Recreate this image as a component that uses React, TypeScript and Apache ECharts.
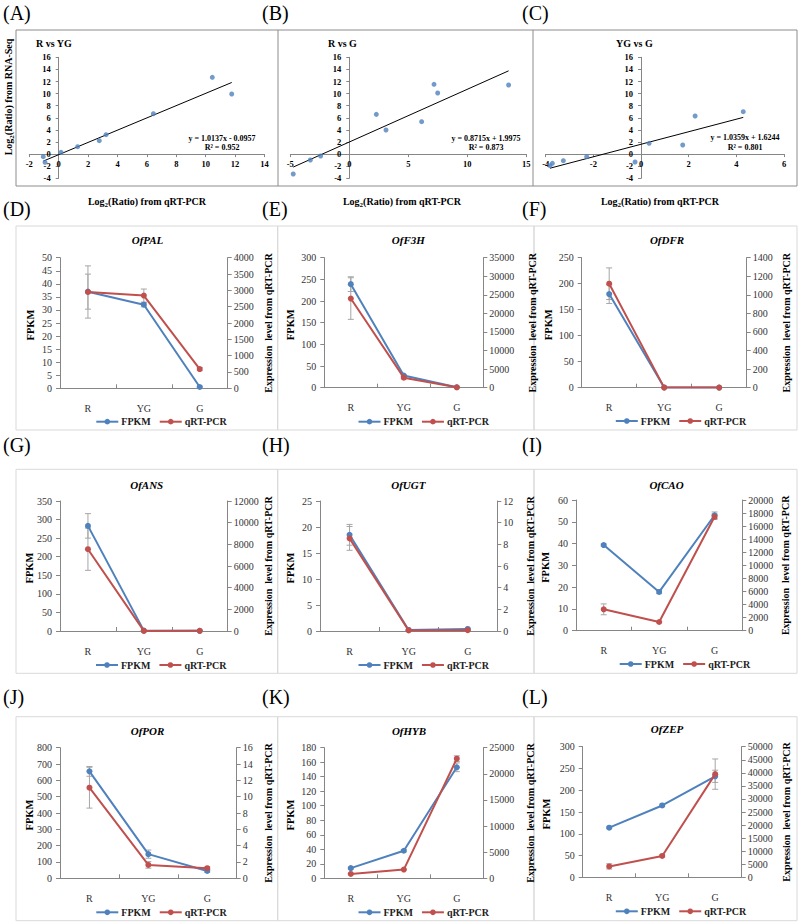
import React, { useEffect, useRef } from 'react';
import * as echarts from 'echarts';

const FONT = "'Liberation Serif', 'Times New Roman', serif";
const BLUE = '#4f81bd';
const RED = '#c0504d';

// ---------- Scatter data (A, B, C) ----------
const scatterLabels = ['(A)', '(B)', '(C)'];
const scatterTitles = ['R vs YG', 'R vs G', 'YG vs G'];
const rVsYgX = [-1.05, -0.93, 0.16, 1.29, 2.76, 3.22, 6.44, 10.45, 11.77];
const rVsYgY = [-0.43, -1.36, 0.29, 1.23, 2.22, 3.21, 6.68, 12.69, 9.93];
const rVsGX = [-4.75, -3.3, -2.43, 2.29, 3.11, 6.13, 7.18, 7.49, 13.5];
const rVsGY = [-3.29, -0.98, -0.31, 6.57, 3.98, 5.36, 11.53, 10.1, 11.42];
const ygVsGX = [-3.82, -3.72, -3.26, -2.28, -0.25, 0.34, 1.75, 2.27, 4.29];
const ygVsGY = [-1.91, -1.52, -1.09, -0.43, -1.31, 1.78, 1.5, 6.3, 7.01];
const slopes = [1.0137, 0.8715, 1.0359];
const intercepts = [-0.0957, 1.9975, 1.6244];
const equations = ['y = 1.0137x - 0.0957', 'y = 0.8715x + 1.9975', 'y = 1.0359x + 1.6244'];
const r2Texts = ['R\u00b2 = 0.952', 'R\u00b2 = 0.873', 'R\u00b2 = 0.801'];
const scatterXMin = [-2, -5, -4];
const scatterXMax = [14, 15, 6];
const scatterXStep = [2, 5, 2];
const scatterYMin = -4;
const scatterYMax = 16;
const scatterYStep = 2;

// ---------- Line panel data (D - L) ----------
const categories = ['R', 'YG', 'G'];
const panelLabels = ['(D)', '(E)', '(F)', '(G)', '(H)', '(I)', '(J)', '(K)', '(L)'];
const genes = ['OfPAL', 'OfF3H', 'OfDFR', 'OfANS', 'OfUGT', 'OfCAO', 'OfPOR', 'OfHYB', 'OfZEP'];

const palFpkm = [37, 32, 0.5];
const palFpkmErr = [6.7, 0.8, 0.3];
const palQrt = [2950, 2840, 590];
const palQrtErr = [800, 200, 50];

const f3hFpkm = [239, 28, 1];
const f3hFpkmErr = [17, 2, 0.3];
const f3hQrt = [24000, 2700, 100];
const f3hQrtErr = [5600, 300, 30];

const dfrFpkm = [180, 0.5, 0.3];
const dfrFpkmErr = [18, 0.1, 0.1];
const dfrQrt = [1120, 1, 1];
const dfrQrtErr = [170, 0, 0];

const ansFpkm = [283, 1, 0.5];
const ansFpkmErr = [33, 0.2, 0.1];
const ansQrt = [7550, 10, 15];
const ansQrtErr = [1950, 5, 5];

const ugtFpkm = [18.5, 0.2, 0.4];
const ugtFpkmErr = [2, 0.05, 0.1];
const ugtQrt = [8.55, 0.05, 0.08];
const ugtQrtErr = [1.1, 0.02, 0.02];

const caoFpkm = [39.3, 17.8, 53];
const caoFpkmErr = [0.5, 0.8, 1.5];
const caoQrt = [3270, 1330, 17430];
const caoQrtErr = [830, 100, 400];

const porFpkm = [655, 148, 45];
const porFpkmErr = [30, 25, 8];
const porQrt = [11.1, 1.64, 1.24];
const porQrtErr = [2.5, 0.4, 0.15];

const hybFpkm = [14, 38, 153];
const hybFpkmErr = [1, 1.5, 6];
const hybQrt = [833, 1667, 22900];
const hybQrtErr = [50, 100, 550];

const zepFpkm = [114, 165, 232];
const zepFpkmErr = [2, 3, 14];
const zepQrt = [4170, 8170, 39500];
const zepQrtErr = [1000, 400, 5800];

const leftMax = [50, 300, 250, 350, 25, 60, 800, 180, 300];
const leftStep = [5, 50, 50, 50, 5, 10, 100, 20, 50];
const rightMax = [4000, 35000, 1400, 12000, 12, 20000, 16, 25000, 50000];
const rightStep = [500, 5000, 200, 2000, 2, 2000, 2, 5000, 5000];

const fpkmSets = [palFpkm, f3hFpkm, dfrFpkm, ansFpkm, ugtFpkm, caoFpkm, porFpkm, hybFpkm, zepFpkm];
const fpkmErrSets = [palFpkmErr, f3hFpkmErr, dfrFpkmErr, ansFpkmErr, ugtFpkmErr, caoFpkmErr, porFpkmErr, hybFpkmErr, zepFpkmErr];
const qrtSets = [palQrt, f3hQrt, dfrQrt, ansQrt, ugtQrt, caoQrt, porQrt, hybQrt, zepQrt];
const qrtErrSets = [palQrtErr, f3hQrtErr, dfrQrtErr, ansQrtErr, ugtQrtErr, caoQrtErr, porQrtErr, hybQrtErr, zepQrtErr];

// ---------- Layout ----------
const scatterGrids = [
  [29.3, 57.3, 235.2, 121],
  [290.3, 57.3, 236, 121],
  [545.7, 57.3, 238.3, 121],
];
const scatterTitlePos = [[36, 43], [328, 43], [616, 43]];
const eqPos = [[222, 138], [486, 138], [745, 137.5]];
const xTitleCx = [147, 402, 660];

const lineGrids = [
  [60, 257.7, 167.7, 130.6],
  [324.3, 257.7, 159, 130],
  [581.7, 257.7, 165, 130],
  [60, 501, 167.7, 130],
  [320, 501, 177.3, 130],
  [576, 500, 166.3, 130.7],
  [60, 747.7, 176.7, 130.6],
  [324.3, 747.7, 159, 130.6],
  [582.7, 746.7, 159, 130.6],
];
const titlePos = [
  [147.5, 240], [408.3, 240], [667, 240],
  [146.7, 485], [408.3, 485], [666.5, 485],
  [147.5, 731], [409, 731], [667, 729],
];
const legendPos = [
  [148.3, 417.7], [410.5, 417.7], [667.8, 417],
  [148, 661], [410.5, 661], [671.7, 660],
  [148.3, 908.3], [410.5, 908.3], [667.8, 907.3],
];
const leftNameX = [30, 290, 548.3, 29, 290, 545, 29.3, 290, 546.7];
const rightNameX = [268.3, 532, 786.7, 268, 530, 785, 268, 530, 786.7];
const colX = [[16, 277.7], [277.7, 534], [534, 797]];
const rowY = [[226, 430], [469.3, 673.3], [716.7, 920.7]];
const labelX = [3, 262, 522];
const labelRowY = [12.5, 209, 445, 697];

const plain = (v: number) => String(v);

function txt(x: number, y: number, text: string, o: any = {}, rotation = 0): any {
  const align = o.align || 'center';
  return {
    type: 'text',
    x,
    y,
    rotation,
    silent: true,
    z: 10,
    style: {
      text,
      fontFamily: FONT,
      fontSize: o.fontSize || 10,
      fontWeight: o.fontWeight || 'normal',
      fontStyle: o.fontStyle || 'normal',
      fill: o.fill || '#000',
      align,
      verticalAlign: 'middle',
      textAlign: align,
      textVerticalAlign: 'middle',
      rich: o.rich,
    },
  };
}

function errorSeries(xi: number, yi: number, vals: number[], errs: number[]): any {
  const data = vals.map((v, k) => [k, v - errs[k], v + errs[k]]).filter((d, k) => errs[k] > 0);
  return {
    type: 'custom',
    xAxisIndex: xi,
    yAxisIndex: yi,
    z: 1,
    silent: true,
    data,
    encode: { x: 0, y: [1, 2] },
    renderItem: (params: any, api: any) => {
      const x = api.value(0);
      const p1 = api.coord([x, api.value(1)]);
      const p2 = api.coord([x, api.value(2)]);
      const w = 3;
      const style = { stroke: '#a6a6a6', lineWidth: 1 };
      return {
        type: 'group',
        children: [
          { type: 'line', shape: { x1: p1[0], y1: p1[1], x2: p2[0], y2: p2[1] }, style },
          { type: 'line', shape: { x1: p1[0] - w, y1: p1[1], x2: p1[0] + w, y2: p1[1] }, style },
          { type: 'line', shape: { x1: p2[0] - w, y1: p2[1], x2: p2[0] + w, y2: p2[1] }, style },
        ],
      };
    },
  };
}

function buildOption(): any {
  const grids: any[] = [];
  const xAxes: any[] = [];
  const yAxes: any[] = [];
  const series: any[] = [];
  const legends: any[] = [];
  const graphics: any[] = [];

  const scatterX = [rVsYgX, rVsGX, ygVsGX];
  const scatterY = [rVsYgY, rVsGY, ygVsGY];
  const axisGray = '#868686';

  graphics.push({
    type: 'rect', silent: true, z: 0,
    shape: { x: 16, y: 30, width: 781, height: 156 },
    style: { fill: 'none', stroke: '#8c8c8c', lineWidth: 1 },
  });
  [278, 533].forEach((x) => {
    graphics.push({
      type: 'line', silent: true, z: 0,
      shape: { x1: x, y1: 30, x2: x, y2: 186 },
      style: { stroke: '#8c8c8c', lineWidth: 1 },
    });
  });

  const subRich = {
    n: { fontFamily: FONT, fontSize: 10, fontWeight: 'bold', lineHeight: 14, verticalAlign: 'middle', fill: '#000' },
    s: { fontFamily: FONT, fontSize: 7, fontWeight: 'bold', lineHeight: 7, verticalAlign: 'bottom', fill: '#000' },
  };

  graphics.push(txt(8, 97, '{n|Log}{s|2}{n|(Ratio) from RNA-Seq}', { fontWeight: 'bold', rich: subRich }, Math.PI / 2));

  for (let i = 0; i < 3; i++) {
    const gi = grids.length;
    const g = scatterGrids[i];
    grids.push({ left: g[0], top: g[1], width: g[2], height: g[3], containLabel: false });
    // place the axes where the other axis is zero
    const xZeroFromLeft = g[2] * (0 - scatterXMin[i]) / (scatterXMax[i] - scatterXMin[i]);
    const yZeroFromBottom = g[3] * (0 - scatterYMin) / (scatterYMax - scatterYMin);
    const xi = xAxes.length;
    xAxes.push({
      gridIndex: gi, type: 'value', position: 'bottom',
      offset: -yZeroFromBottom,
      min: scatterXMin[i], max: scatterXMax[i], interval: scatterXStep[i],
      axisLine: { show: true, onZero: false, lineStyle: { color: axisGray } },
      axisTick: { show: true, length: 3, lineStyle: { color: axisGray } },
      axisLabel: { fontFamily: FONT, fontWeight: 'bold', fontSize: 8.5, color: '#000', margin: 5, formatter: plain },
      splitLine: { show: false },
    });
    const yi = yAxes.length;
    yAxes.push({
      gridIndex: gi, type: 'value', position: 'left',
      offset: -xZeroFromLeft,
      min: scatterYMin, max: scatterYMax, interval: scatterYStep,
      axisLine: { show: true, onZero: false, lineStyle: { color: axisGray } },
      axisTick: { show: true, length: 3, lineStyle: { color: axisGray } },
      axisLabel: { fontFamily: FONT, fontWeight: 'bold', fontSize: 8.5, color: '#000', margin: 8, formatter: plain },
      splitLine: { show: false },
    });
    const xs = scatterX[i];
    const ys = scatterY[i];
    series.push({
      type: 'scatter', xAxisIndex: xi, yAxisIndex: yi,
      data: xs.map((x, k) => [x, ys[k]]),
      symbol: 'circle', symbolSize: 5, z: 3,
      itemStyle: { color: BLUE },
    });
    const x0 = Math.min(...xs);
    const x1 = Math.max(...xs);
    series.push({
      type: 'line', xAxisIndex: xi, yAxisIndex: yi,
      data: [[x0, slopes[i] * x0 + intercepts[i]], [x1, slopes[i] * x1 + intercepts[i]]],
      symbol: 'none', z: 2,
      lineStyle: { color: '#000', width: 1 },
    });

    graphics.push(txt(labelX[i], labelRowY[0], scatterLabels[i], { fontSize: 20, align: 'left' }));
    graphics.push(txt(scatterTitlePos[i][0], scatterTitlePos[i][1], scatterTitles[i], { fontSize: 10, fontWeight: 'bold', align: 'left' }));
    graphics.push(txt(eqPos[i][0], eqPos[i][1], equations[i], { fontSize: 8, fontWeight: 'bold' }));
    graphics.push(txt(eqPos[i][0], eqPos[i][1] + 9.5, r2Texts[i], { fontSize: 8, fontWeight: 'bold' }));
    graphics.push(txt(xTitleCx[i], 201, '{n|Log}{s|2}{n|(Ratio) from qRT-PCR}', { fontWeight: 'bold', rich: subRich }));
  }

  for (let j = 0; j < 9; j++) {
    const col = j % 3;
    const row = Math.floor(j / 3);
    const cx = colX[col];
    const ry = rowY[row];
    graphics.push({
      type: 'rect', silent: true, z: 0,
      shape: { x: cx[0], y: ry[0], width: cx[1] - cx[0], height: ry[1] - ry[0] },
      style: { fill: 'none', stroke: '#d9d9d9', lineWidth: 1 },
    });
    graphics.push(txt(labelX[col], labelRowY[row + 1], panelLabels[j], { fontSize: 20, align: 'left' }));
    graphics.push(txt(titlePos[j][0], titlePos[j][1], genes[j], { fontSize: 11, fontWeight: 'bold', fontStyle: 'italic' }));

    const g = lineGrids[j];
    const gi = grids.length;
    grids.push({ left: g[0], top: g[1], width: g[2], height: g[3], containLabel: false });
    const midY = g[1] + g[3] / 2;
    graphics.push(txt(leftNameX[j], midY + 2, 'FPKM', { fontSize: 10.5, fontWeight: 'bold' }, Math.PI / 2));
    graphics.push(txt(rightNameX[j], midY, 'Expression  level from qRT-PCR', { fontSize: 10, fontWeight: 'bold' }, Math.PI / 2));

    const xi = xAxes.length;
    xAxes.push({
      gridIndex: gi, type: 'category', data: categories, boundaryGap: true,
      axisLine: { show: true, lineStyle: { color: axisGray } },
      axisTick: { show: true, inside: true, length: 4, alignWithLabel: false, lineStyle: { color: axisGray } },
      axisLabel: { fontFamily: FONT, fontSize: 10, color: '#333', margin: 15 },
      splitLine: { show: false },
    });
    const yl = yAxes.length;
    yAxes.push({
      gridIndex: gi, type: 'value', position: 'left',
      min: 0, max: leftMax[j], interval: leftStep[j],
      axisLine: { show: true, onZero: false, lineStyle: { color: axisGray } },
      axisTick: { show: true, length: 4, lineStyle: { color: axisGray } },
      axisLabel: { fontFamily: FONT, fontSize: 10, color: '#333', margin: 8, formatter: plain },
      splitLine: { show: false },
    });
    const yr = yAxes.length;
    yAxes.push({
      gridIndex: gi, type: 'value', position: 'right',
      min: 0, max: rightMax[j], interval: rightStep[j],
      axisLine: { show: true, onZero: false, lineStyle: { color: axisGray } },
      axisTick: { show: true, length: 4, lineStyle: { color: axisGray } },
      axisLabel: { fontFamily: FONT, fontSize: 10, color: '#333', margin: 6, formatter: plain },
      splitLine: { show: false },
    });

    series.push(errorSeries(xi, yl, fpkmSets[j], fpkmErrSets[j]));
    series.push(errorSeries(xi, yr, qrtSets[j], qrtErrSets[j]));
    series.push({
      type: 'line', name: 'FPKM', xAxisIndex: xi, yAxisIndex: yl,
      data: fpkmSets[j], symbol: 'circle', symbolSize: 6, z: 3,
      itemStyle: { color: BLUE }, lineStyle: { color: BLUE, width: 2 },
    });
    series.push({
      type: 'line', name: 'qRT-PCR', xAxisIndex: xi, yAxisIndex: yr,
      data: qrtSets[j], symbol: 'circle', symbolSize: 6, z: 4,
      itemStyle: { color: RED }, lineStyle: { color: RED, width: 2 },
    });

    legends.push({
      data: ['FPKM', 'qRT-PCR'],
      left: legendPos[j][0] - 58,
      top: legendPos[j][1] - 6,
      itemWidth: 22, itemHeight: 7, itemGap: 8,
      selectedMode: false,
      textStyle: { fontFamily: FONT, fontWeight: 'bold', fontSize: 10, color: '#222', padding: [0, 0, 0, -2] },
    });
  }

  return {
    animation: false,
    backgroundColor: '#ffffff',
    textStyle: { fontFamily: FONT },
    grid: grids,
    xAxis: xAxes,
    yAxis: yAxes,
    series,
    legend: legends,
    graphic: { elements: graphics },
  };
}

export default function App() {
  const ref = useRef<HTMLDivElement>(null);
  useEffect(() => {
    if (!ref.current) return;
    const chart = echarts.init(ref.current, undefined, { renderer: 'svg' });
    chart.setOption(buildOption());
    return () => chart.dispose();
  }, []);
  return (
    <div
      ref={ref}
      style={{ position: 'absolute', left: 0, top: 0, width: 800, height: 924, background: '#fff' }}
    />
  );
}
